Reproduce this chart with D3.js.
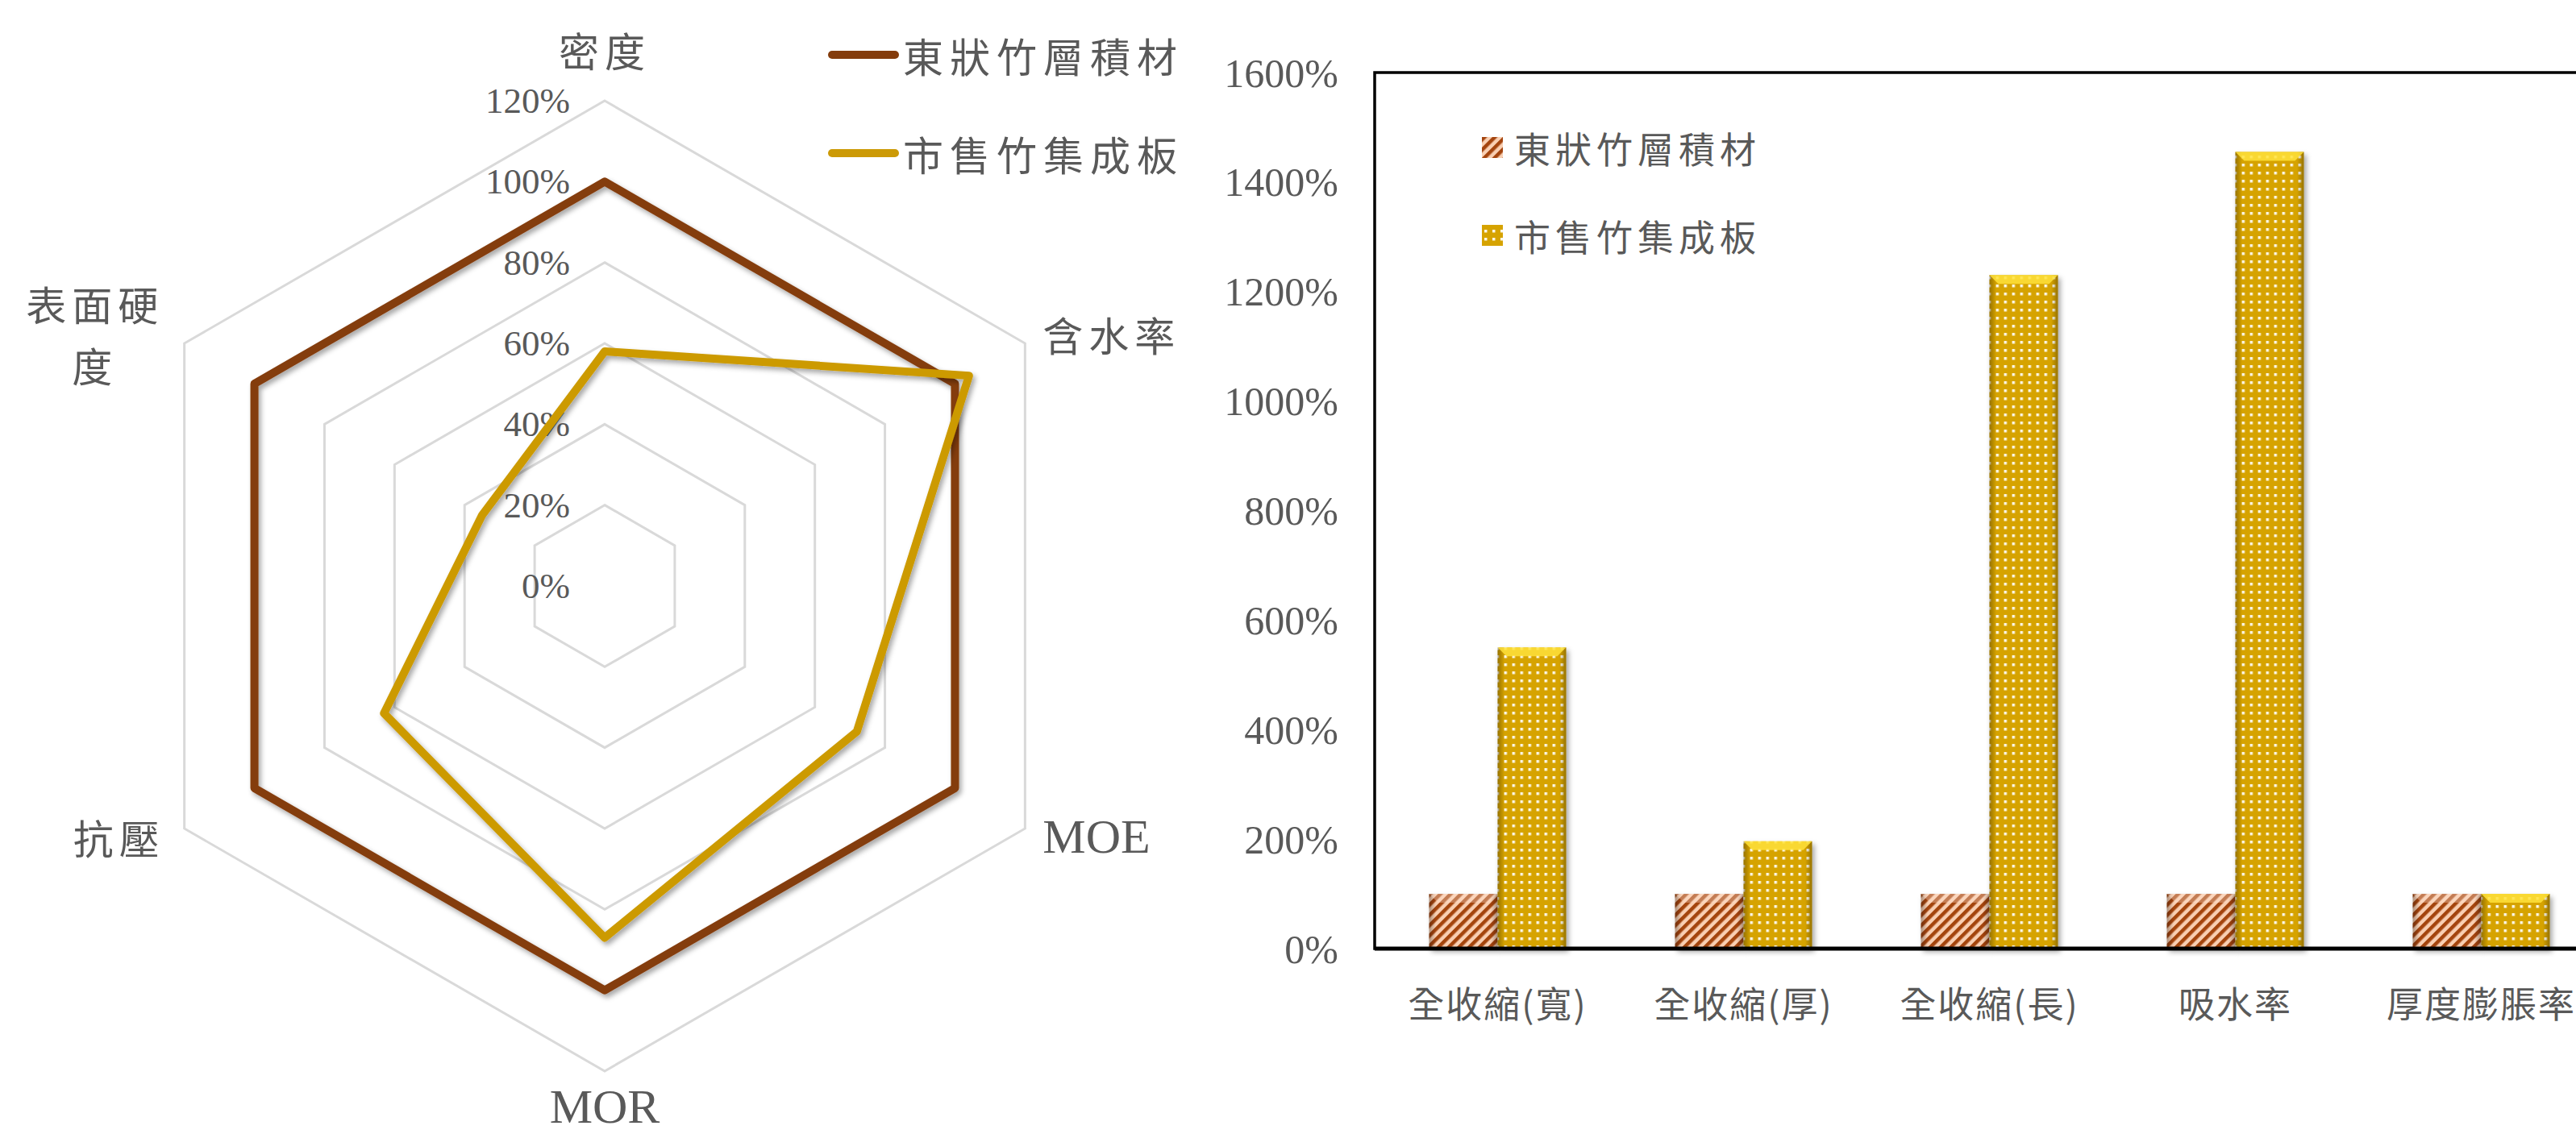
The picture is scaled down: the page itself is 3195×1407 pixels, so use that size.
<!DOCTYPE html>
<html>
<head>
<meta charset="utf-8">
<script src="https://cdn.jsdelivr.net/npm/d3@7"></script>
<style>
  body { margin: 0; background: #fff; }
  svg { display: block; }
  .num { font-family: "Liberation Serif", "DejaVu Serif", serif; fill: #595959; }
  .cjk { font-family: "Noto Sans CJK TC", "Noto Sans CJK SC", sans-serif; fill: #595959; }
</style>
</head>
<body>
<div id="chart"></div>
<script>
// ---- data ----
const seriesNames = ['東狀竹層積材', '市售竹集成板'];
const seriesColors = ['#843C0C', '#CC9A06'];

const radarAxes = ['密度', '含水率', 'MOE', 'MOR', '抗壓', '表面硬度'];
const radarTicks = [0, 0.2, 0.4, 0.6, 0.8, 1.0, 1.2];
const radarBundle = [1.0, 1.0, 1.0, 1.0, 1.0, 1.0];
const radarCommercial = [0.58, 1.04, 0.72, 0.87, 0.63, 0.35];

const barCategories = ['全收縮(寬)', '全收縮(厚)', '全收縮(長)', '吸水率', '厚度膨脹率'];
const barTicks = [0, 2, 4, 6, 8, 10, 12, 14, 16];
const barBundle = [1.0, 1.0, 1.0, 1.0, 1.0];
const barCommercial = [5.5, 1.96, 12.3, 14.55, 1.0];

const width = 3195, height = 1407;
const pct = d3.format('.0%');

const svg = d3.select('#chart').append('svg')
    .attr('width', width)
    .attr('height', height);

svg.append('rect').attr('width', width).attr('height', height).attr('fill', '#fff');

const defs = svg.append('defs');

const shadow = defs.append('filter').attr('id', 'shadow')
    .attr('x', '-10%').attr('y', '-10%').attr('width', '130%').attr('height', '130%');
shadow.append('feDropShadow')
    .attr('dx', 3).attr('dy', 4).attr('stdDeviation', 3)
    .attr('flood-color', '#000').attr('flood-opacity', 0.35);

// brown diagonal stripes
const stripes = defs.append('pattern').attr('id', 'stripes')
    .attr('patternUnits', 'userSpaceOnUse')
    .attr('width', 9).attr('height', 9)
    .attr('patternTransform', 'rotate(45)');
stripes.append('rect').attr('width', 9).attr('height', 9).attr('fill', '#F9CFB2');
stripes.append('rect').attr('width', 4.5).attr('height', 9).attr('fill', '#A4440E');

// gold with white dots
const dots = defs.append('pattern').attr('id', 'dots')
    .attr('patternUnits', 'userSpaceOnUse')
    .attr('width', 10).attr('height', 10);
dots.append('rect').attr('width', 10).attr('height', 10).attr('fill', '#D6A300');
dots.append('rect').attr('x', 3).attr('y', 3).attr('width', 3.5).attr('height', 3.5).attr('fill', '#fff').attr('opacity', 0.9);

// side shading for the bevel look
const side = defs.append('linearGradient').attr('id', 'side');
side.append('stop').attr('offset', '0%').attr('stop-color', '#000').attr('stop-opacity', 0.3);
side.append('stop').attr('offset', '10%').attr('stop-color', '#000').attr('stop-opacity', 0);
side.append('stop').attr('offset', '90%').attr('stop-color', '#000').attr('stop-opacity', 0);
side.append('stop').attr('offset', '100%').attr('stop-color', '#000').attr('stop-opacity', 0.3);

// ================= radar =================
const cx = 750, cy = 727;
const rScale = d3.scaleLinear().domain([0, 1.2]).range([0, 602]);
const angle = d3.scaleLinear().domain([0, radarAxes.length]).range([0, 2 * Math.PI]);

function pt(i, v) {
    const a = angle(i);
    return [cx + rScale(v) * Math.sin(a), cy - rScale(v) * Math.cos(a)];
}

const radar = svg.append('g').attr('class', 'radar');

radar.append('g').selectAll('polygon')
    .data(radarTicks.filter(d => d > 0))
    .join('polygon')
    .attr('points', t => radarAxes.map((_, i) => pt(i, t).join(',')).join(' '))
    .attr('fill', 'none')
    .attr('stroke', '#D9D9D9')
    .attr('stroke-width', 3);

radar.append('g').selectAll('text')
    .data(radarTicks)
    .join('text')
    .attr('class', 'num')
    .attr('x', cx - 43)
    .attr('y', d => cy - rScale(d))
    .attr('text-anchor', 'end')
    .attr('dominant-baseline', 'central')
    .attr('font-size', 45)
    .text(d => pct(d));

const radarSeries = [radarBundle, radarCommercial];
radar.append('g').selectAll('polygon')
    .data(radarSeries)
    .join('polygon')
    .attr('points', vals => vals.map((v, i) => pt(i, v).join(',')).join(' '))
    .attr('fill', 'none')
    .attr('stroke', (d, i) => seriesColors[i])
    .attr('stroke-width', 10)
    .attr('stroke-linejoin', 'round')
    .attr('filter', 'url(#shadow)');

// axis labels
radarAxes.forEach((label, i) => {
    const deg = i * 360 / radarAxes.length;
    const [vx, vy] = pt(i, 1.2);
    const lines = label.length > 3 && /[\u4e00-\u9fff]/.test(label)
        ? [label.slice(0, 3), label.slice(3)] : [label];
    const isCjk = /[\u4e00-\u9fff]/.test(label);
    let x = vx, y = vy, anchor = 'middle';
    if (deg === 0) { y = vy - 64; }
    else if (deg === 180) { y = vy + 44; }
    else if (deg < 180) { anchor = 'start'; x = vx + 22; y = vy + (deg < 90 ? -12 : 10); }
    else {
        anchor = 'end'; x = vx - 24; y = vy + (deg > 270 ? -12 : 10);
        if (lines.length > 1) { anchor = 'middle'; x = vx - 24 - 87; }
    }
    const t = radar.append('text')
        .attr('class', isCjk ? 'cjk' : 'num')
        .attr('text-anchor', anchor)
        .attr('font-size', isCjk ? 50 : 60)
        .style('letter-spacing', isCjk ? '7px' : '0px');
    lines.forEach((ln, k) => {
        t.append('tspan')
            .attr('x', x)
            .attr('y', y + (k - (lines.length - 1) / 2) * 76)
            .attr('dominant-baseline', 'central')
            .text(ln);
    });
});

// radar legend
const rLegend = svg.append('g').selectAll('g')
    .data(seriesNames)
    .join('g')
    .attr('transform', (d, i) => `translate(1032, ${68 + i * 122})`);
rLegend.append('line')
    .attr('x1', 0).attr('x2', 78)
    .attr('stroke', (d, i) => seriesColors[i])
    .attr('stroke-width', 10)
    .attr('stroke-linecap', 'round');
rLegend.append('text')
    .attr('class', 'cjk')
    .attr('x', 88)
    .attr('dominant-baseline', 'central')
    .attr('font-size', 50)
    .style('letter-spacing', '8px')
    .text(d => d);

// ================= bars =================
const plot = { left: 1705, right: 3230, top: 90, bottom: 1177 };

const x0 = d3.scaleBand()
    .domain(barCategories)
    .range([plot.left, plot.right])
    .paddingInner(0.443)
    .paddingOuter(0.2215);
const x1 = d3.scaleBand()
    .domain([0, 1])
    .range([0, x0.bandwidth()]);
const y = d3.scaleLinear()
    .domain([0, 16])
    .range([plot.bottom, plot.top]);

const bars = svg.append('g').attr('class', 'bars');

// y axis labels
const yAxis = bars.append('g')
    .attr('transform', `translate(${plot.left},0)`)
    .call(d3.axisLeft(y).tickValues(barTicks).tickFormat(d => pct(d)).tickSize(0).tickPadding(45));
yAxis.select('.domain').remove();
yAxis.selectAll('text')
    .attr('class', 'num')
    .attr('font-size', 50)
    .attr('dy', null)
    .attr('dominant-baseline', 'central');

const barSeries = [barBundle, barCommercial];
const groups = bars.append('g').selectAll('g')
    .data(barCategories)
    .join('g')
    .attr('transform', d => `translate(${x0(d)},0)`);

const barData = (cat, ci) => barSeries.map((vals, si) => ({ si, v: vals[ci] }));

const barG = groups.selectAll('g')
    .data((d, ci) => barData(d, ci))
    .join('g')
    .attr('filter', 'url(#shadow)');

barG.append('rect')
    .attr('x', d => x1(d.si))
    .attr('y', d => y(d.v))
    .attr('width', x1.bandwidth())
    .attr('height', d => y(0) - y(d.v))
    .attr('fill', d => d.si === 0 ? 'url(#stripes)' : 'url(#dots)');

barG.append('rect')
    .attr('x', d => x1(d.si))
    .attr('y', d => y(d.v))
    .attr('width', x1.bandwidth())
    .attr('height', d => y(0) - y(d.v))
    .attr('fill', 'url(#side)');

// top bevel
barG.append('path')
    .attr('d', d => {
        const xl = x1(d.si), xr = xl + x1.bandwidth(), yt = y(d.v), b = 11;
        return `M${xl},${yt}L${xr},${yt}L${xr - b},${yt + b}L${xl + b},${yt + b}Z`;
    })
    .attr('fill', d => d.si === 0 ? '#FFE3D0' : '#FFE23A')
    .attr('opacity', d => d.si === 0 ? 0.35 : 0.85);

// frame and axes
bars.append('rect')
    .attr('x', plot.left).attr('y', plot.top)
    .attr('width', plot.right + 20 - plot.left)
    .attr('height', plot.bottom - plot.top)
    .attr('fill', 'none')
    .attr('stroke', '#000')
    .attr('stroke-width', 3.5);
bars.append('line')
    .attr('x1', plot.left).attr('x2', width)
    .attr('y1', plot.bottom).attr('y2', plot.bottom)
    .attr('stroke', '#000')
    .attr('stroke-width', 5);

// x labels
const xAxis = bars.append('g')
    .attr('transform', `translate(0,${plot.bottom})`)
    .call(d3.axisBottom(x0).tickSize(0).tickPadding(66));
xAxis.select('.domain').remove();
xAxis.selectAll('text')
    .attr('class', 'cjk')
    .attr('font-size', 45)
    .attr('dy', null)
    .attr('dominant-baseline', 'central')
    .style('letter-spacing', '2px');

// bar legend
const bLegend = svg.append('g').selectAll('g')
    .data(seriesNames)
    .join('g')
    .attr('transform', (d, i) => `translate(1838, ${183 + i * 109})`);
bLegend.append('rect')
    .attr('y', -13)
    .attr('width', 26).attr('height', 26)
    .attr('fill', (d, i) => i === 0 ? 'url(#stripes)' : 'url(#dots)');
bLegend.append('text')
    .attr('class', 'cjk')
    .attr('x', 40)
    .attr('dominant-baseline', 'central')
    .attr('font-size', 45)
    .style('letter-spacing', '6px')
    .text(d => d);
</script>
</body>
</html>
